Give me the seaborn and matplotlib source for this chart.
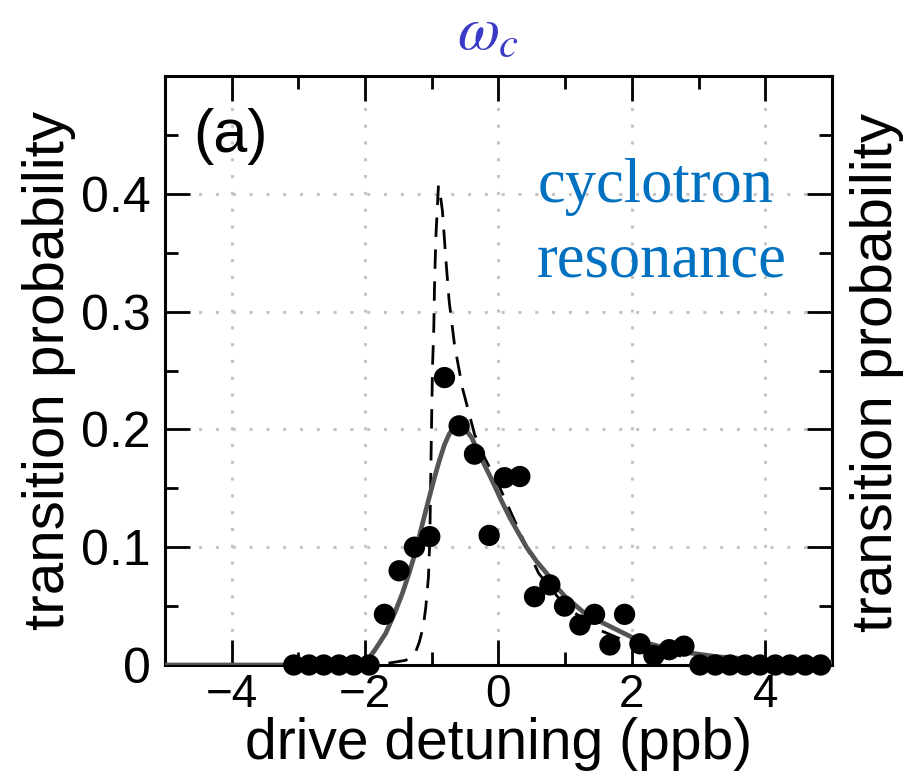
import numpy as np
import pandas as pd
import matplotlib
matplotlib.use("Agg")
import matplotlib.pyplot as plt
from matplotlib.ticker import FixedLocator
import seaborn as sns

# ---- data ----
det_points = [-3.07, -2.84, -2.62, -2.39, -2.17, -1.94,
              -1.71, -1.49, -1.26, -1.03, -0.81, -0.59, -0.36, -0.14,
              0.09, 0.32, 0.54, 0.77, 0.99, 1.22, 1.44, 1.67, 1.89,
              2.12, 2.33, 2.56, 2.78,
              3.02, 3.25, 3.47, 3.70, 3.92, 4.15, 4.37, 4.60, 4.83]
prob_points = [0, 0, 0, 0, 0, 0,
               0.043, 0.080, 0.100, 0.109, 0.244, 0.203, 0.179, 0.110,
               0.159, 0.160, 0.058, 0.068, 0.050, 0.034, 0.043, 0.017, 0.043,
               0.018, 0.008, 0.013, 0.016,
               0, 0, 0, 0, 0, 0, 0, 0, 0]

fit_x = [-5.0, -2.2, -2.0, -1.94, -1.85, -1.69, -1.55, -1.44, -1.34, -1.24,
         -1.14, -1.04, -0.96, -0.89, -0.81, -0.74, -0.69, -0.64, -0.57,
         -0.50, -0.40, -0.34, -0.22, -0.09, 0.04, 0.17, 0.30, 0.42, 0.57,
         0.72, 0.86, 1.00, 1.27, 1.52, 1.77, 2.02, 2.27, 2.52, 2.77, 3.28,
         4.03, 5.0]
fit_y = [0.0, 0.0, 0.002, 0.006, 0.013, 0.027, 0.045, 0.061, 0.078, 0.097,
         0.120, 0.142, 0.159, 0.173, 0.187, 0.196, 0.200, 0.203, 0.203,
         0.200, 0.193, 0.185, 0.171, 0.156, 0.140, 0.125, 0.112, 0.100,
         0.088, 0.078, 0.067, 0.058, 0.045, 0.037, 0.030, 0.023, 0.018,
         0.014, 0.011, 0.007, 0.004, 0.002]

theory_x = [-5.0, -1.82, -1.6, -1.39, -1.25, -1.19, -1.13, -1.09, -1.05,
            -1.03, -1.01, -0.99, -0.97, -0.96, -0.94, -0.92, -0.90, -0.87,
            -0.84, -0.79, -0.74, -0.66, -0.54, -0.36, -0.20, 0.0, 0.27,
            0.60, 1.0, 1.5, 2.0, 2.5, 3.0, 4.0, 5.0]
theory_y = [0.0, 0.0, 0.002, 0.004, 0.010, 0.019, 0.032, 0.049, 0.075,
            0.106, 0.182, 0.252, 0.286, 0.320, 0.362, 0.385, 0.407, 0.398,
            0.385, 0.345, 0.309, 0.272, 0.235, 0.196, 0.175, 0.153, 0.119,
            0.078, 0.050, 0.030, 0.018, 0.010, 0.005, 0.002, 0.001]

x_major = [-4, -2, 0, 2, 4]
x_labels = ["\u22124", "\u22122", "0", "2", "4"]
y_major = [0, 0.1, 0.2, 0.3, 0.4]
y_labels = ["0", "0.1", "0.2", "0.3", "0.4"]

sns.set_theme(style="ticks")
plt.rcParams["font.family"] = ["Liberation Sans", "DejaVu Sans"]
plt.rcParams["mathtext.fontset"] = "stix"
plt.rcParams["text.color"] = "black"
plt.rcParams["axes.labelcolor"] = "black"
plt.rcParams["xtick.color"] = "black"
plt.rcParams["ytick.color"] = "black"

fig = plt.figure(figsize=(9.04, 7.8), dpi=100)
ax = fig.add_axes([165 / 904, 1 - 665 / 780, 667 / 904, 589 / 780])

# grid
for gx in x_major:
    ax.axvline(gx, color="#c4c4c4", lw=2.2, ls=(0, (1, 4.5)), zorder=0)
for gy in y_major[1:]:
    ax.axhline(gy, color="#c4c4c4", lw=2.2, ls=(0, (1, 4.5)), zorder=0)

sns.lineplot(x=theory_x, y=theory_y, ax=ax, color="black", lw=2.0,
             linestyle=(0, (7, 4.5)), estimator=None, sort=False, zorder=2)
sns.lineplot(x=fit_x, y=fit_y, ax=ax, color="#555555", lw=3.4,
             estimator=None, sort=False, zorder=3)
sns.scatterplot(x=det_points, y=prob_points, ax=ax, color="black", s=235,
                edgecolor="none", linewidth=0, zorder=4, clip_on=False)

ax.set_xlim(-5, 5)
ax.set_ylim(0, 0.5)
ax.xaxis.set_major_locator(FixedLocator(x_major))
ax.set_xticklabels(x_labels)
ax.xaxis.set_minor_locator(FixedLocator([-3, -1, 1, 3]))
ax.yaxis.set_major_locator(FixedLocator(y_major))
ax.set_yticklabels(y_labels)
ax.yaxis.set_minor_locator(FixedLocator([0.05, 0.15, 0.25, 0.35, 0.45]))

ax.tick_params(which="both", direction="in", top=True, right=True,
               color="black", width=2.0)
ax.tick_params(which="major", length=18)
ax.tick_params(which="minor", length=9.5)
ax.tick_params(axis="x", which="major", labelsize=33, pad=6,
               labelcolor="black")
ax.tick_params(axis="y", which="major", labelsize=36, pad=10,
               labelcolor="black")
for sp in ax.spines.values():
    sp.set_linewidth(2.2)
    sp.set_color("black")

ax.set_xlabel("drive detuning (ppb)", fontsize=41, labelpad=0, color="black")
ax.set_ylabel("transition probability", fontsize=42, labelpad=4,
              color="black")

ax.text(0.042, 0.871, "(a)", transform=ax.transAxes, fontsize=44,
        ha="left", va="baseline", color="black")
ax.text(0.558, 0.786, "cyclotron", transform=ax.transAxes, fontsize=45,
        family="Liberation Serif", color="#0070C0", ha="left", va="baseline")
ax.text(0.558, 0.659, "resonance", transform=ax.transAxes, fontsize=45,
        family="Liberation Serif", color="#0070C0", ha="left", va="baseline")

fig.text(488 / 904, 1 - 33 / 780, r"$\omega_c$", fontsize=44,
         color="#3a3ac8", ha="center", va="center")
fig.text(850 / 904, 1 - 372 / 780, "transition probability", fontsize=42,
         rotation=90, ha="left", va="center", color="black")

fig.savefig("out.png", dpi=100)
